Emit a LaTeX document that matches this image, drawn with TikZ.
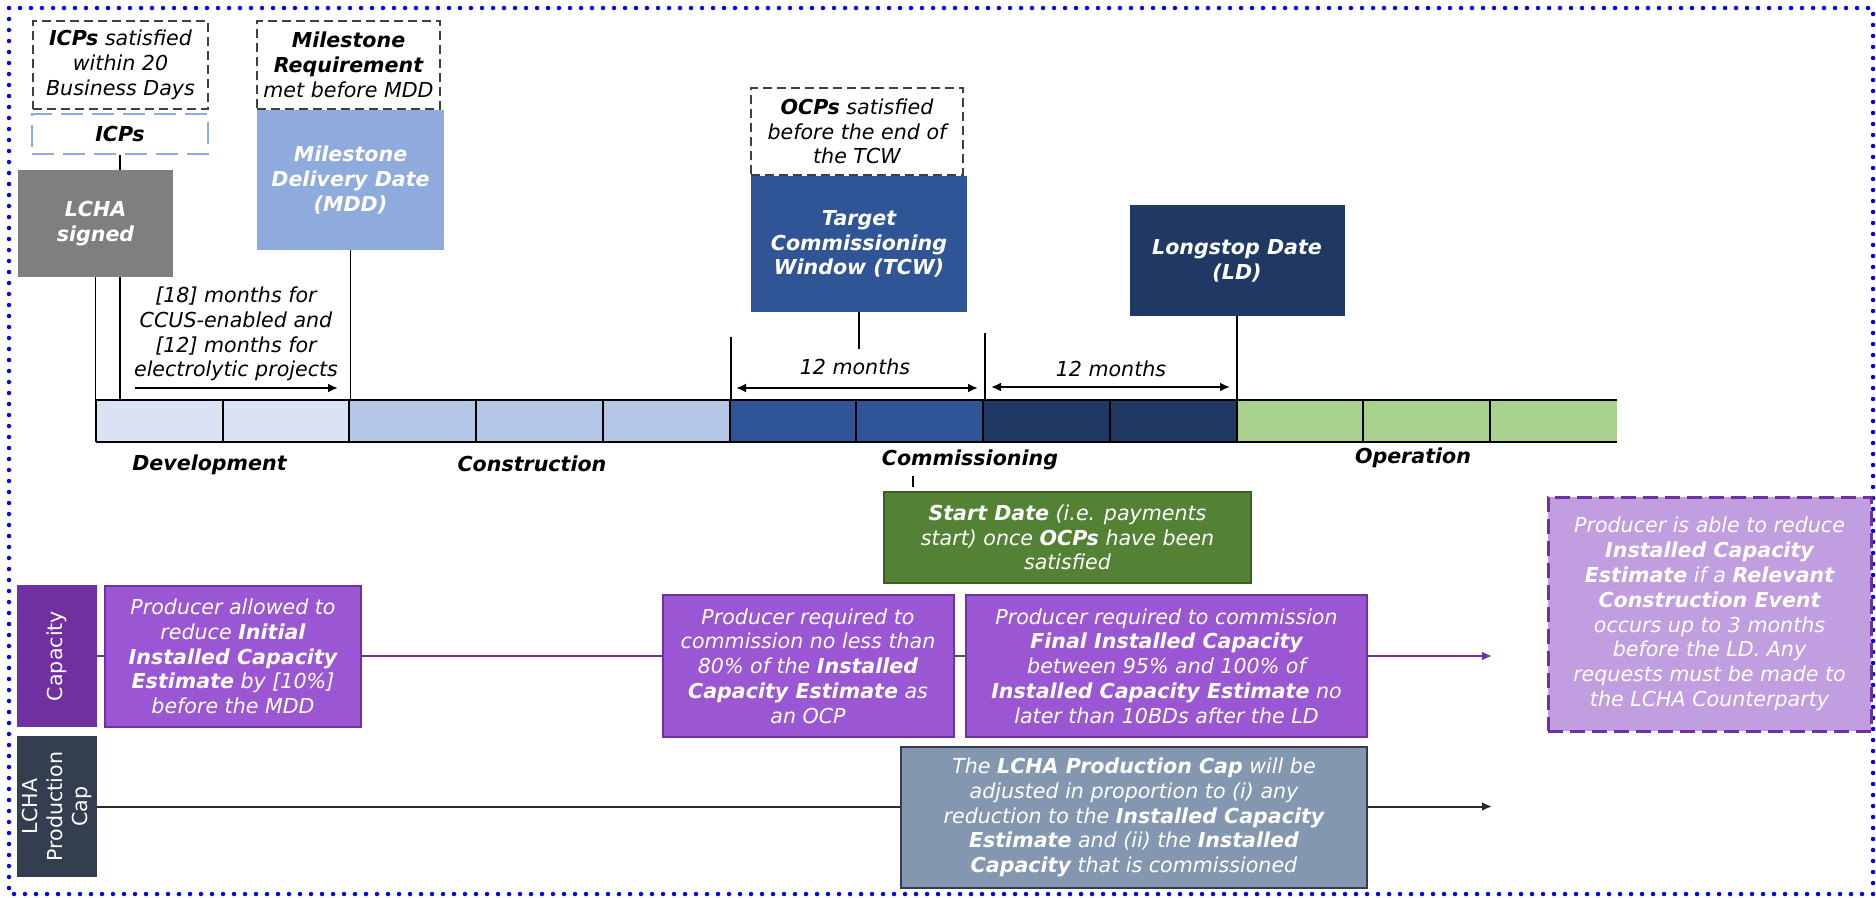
\documentclass[tikz,border=0pt]{standalone}
\usepackage{fontspec}
\setmainfont{DejaVu Sans}[
  BoldFont={DejaVu Sans Bold},
  ItalicFont={DejaVu Sans Oblique},
  BoldItalicFont={DejaVu Sans Bold Oblique}]
\usetikzlibrary{arrows.meta,calc}
\pgfdeclarelayer{background}
\pgfsetlayers{background,main}

% palette
\definecolor{devC}{HTML}{DAE3F3}
\definecolor{conC}{HTML}{B4C7E7}
\definecolor{tcwC}{HTML}{2F5597}
\definecolor{ldC}{HTML}{203864}
\definecolor{opC}{HTML}{A9D18E}
\definecolor{signC}{HTML}{7F7F7F}
\definecolor{mddC}{HTML}{8FAADC}
\definecolor{startC}{HTML}{548235}
\definecolor{startB}{HTML}{3B6024}
\definecolor{purpD}{HTML}{7030A0}
\definecolor{purpM}{HTML}{9B57D3}
\definecolor{purpL}{HTML}{C09EE0}
\definecolor{slateD}{HTML}{333F50}
\definecolor{slateM}{HTML}{8497B0}
\definecolor{dashG}{HTML}{404040}
\definecolor{capLine}{HTML}{2A2A2A}
\definecolor{frameB}{HTML}{0000F0}

\newcommand\dfont{\fontsize{20.6}{24.8}\selectfont}

\tikzset{
  every node/.style={font=\dfont\itshape, align=center, inner sep=0pt},
  notebox/.style={draw=dashG, line width=1.3pt, dash pattern=on 9pt off 5pt, text=black},
  icpbox/.style={draw=mddC, line width=2pt, dash pattern=on 22pt off 9pt, text=black},
  datebox/.style={text=white, font=\dfont\itshape\bfseries},
  purplebox/.style={fill=purpM, draw=purpD, line width=2pt, text=white},
  sidelabel/.style={text=white, font=\dfont\upshape, rotate=90},
  seg/.style={minimum width=126.75pt, minimum height=42pt},
  link/.style={draw=black, line width=1.8pt},
  dimarrow/.style={line width=2pt, {Latex[length=10pt,width=9pt]}-{Latex[length=10pt,width=9pt]}},
  onearrow/.style={line width=2pt, -{Latex[length=10pt,width=9pt]}},
  phase/.style={font=\dfont\itshape\bfseries}
}

\begin{document}
\begin{tikzpicture}[x=1pt,y=-1pt]
\useasboundingbox (0,0) rectangle (1876,897);

% dotted frame
\draw[frameB, line width=4.5pt, line cap=round, dash pattern=on 0pt off 11pt]
  (9,8) rectangle (1873,894);

% timeline bar
\foreach \i/\c in {0/devC,1/devC,2/conC,3/conC,4/conC,5/tcwC,6/tcwC,7/ldC,8/ldC,9/opC,10/opC,11/opC}
  \node[seg, fill=\c] (s\i) at ({159.375+126.75*\i},421) {};
\draw[line width=2pt] (s0.north west) -- (s11.north east);
\draw[line width=2pt] (s0.south west) -- (s11.south east);
\foreach \i in {0,...,11}
  \draw[line width=2pt] (s\i.north west) -- (s\i.south west);

% milestone notes and dates
\node[notebox, minimum width=175pt, minimum height=88pt] (icpsat) at (120.5,65)
  {\textbf{ICPs} satisfied\\within 20\\Business Days};
\node[icpbox, minimum width=176pt, minimum height=40pt] (icps) at (120,134) {\textbf{ICPs}};
\node[datebox, fill=signC, minimum width=155pt, minimum height=107pt] (lcha) at (95.5,223.5)
  {LCHA\\signed};
\node[notebox, minimum width=183pt, minimum height=88pt] (msreq) at (348.5,65)
  {\textbf{Milestone}\\\textbf{Requirement}\\met before MDD};
\node[datebox, fill=mddC, minimum width=187pt, minimum height=140pt] (mdd) at (350.5,180)
  {Milestone\\Delivery Date\\(MDD)};
\node[notebox, minimum width=212pt, minimum height=87pt] (ocps) at (857,131.5)
  {\textbf{OCPs} satisfied\\before the end of\\the TCW};
\node[datebox, fill=tcwC, minimum width=216pt, minimum height=136pt] (tcw) at (859,244)
  {Target\\Commissioning\\Window (TCW)};
\node[datebox, fill=ldC, minimum width=215pt, minimum height=111pt] (ld) at (1237,260.5)
  {Longstop Date\\(LD)};

% period labels
\node (mdev) at (236,334) {[18] months for\\CCUS-enabled and\\{[12]} months for\\electrolytic projects};
\node (m12a) at (855,367) {12 months};
\node (m12b) at (1111,369) {12 months};

% phase names
\node[phase] (devl) at (209.5,465) {Development};
\node[phase] (conl) at (532,464) {Construction};
\node[phase] (coml) at (970,460) {Commissioning};
\node[phase] (opl) at (1413,458) {Operation};

% start date
\node[fill=startC, draw=startB, line width=2pt, text=white, minimum width=367pt, minimum height=91pt]
  (start) at (1067.5,537.5)
  {\textbf{Start Date} (i.e. payments\\start) once \textbf{OCPs} have been\\satisfied};

% row labels
\node[sidelabel, fill=purpD, minimum width=142pt, minimum height=80pt] (capl) at (57,656) {Capacity};
\node[sidelabel, fill=slateD, minimum width=141pt, minimum height=80pt] (prodl) at (57,806.5)
  {LCHA\\Production\\Cap};

% capacity row
\node[purplebox, minimum width=256pt, minimum height=141pt] (allowed) at (233,656.5)
  {Producer allowed to\\reduce \textbf{Initial}\\\textbf{Installed Capacity}\\\textbf{Estimate} by [10\%]\\before the MDD};
\node[purplebox, minimum width=291pt, minimum height=142pt] (req80) at (808,666)
  {Producer required to\\commission no less than\\80\% of the \textbf{Installed}\\\textbf{Capacity Estimate} as\\an OCP};
\node[purplebox, minimum width=401pt, minimum height=142pt] (final) at (1166.5,666)
  {Producer required to commission\\\textbf{Final Installed Capacity}\\between 95\% and 100\% of\\\textbf{Installed Capacity Estimate} no\\later than 10BDs after the LD};
\node[fill=purpL, draw=purpD, line width=3pt, dash pattern=on 15pt off 7pt, text=white,
      minimum width=323pt, minimum height=234pt] (reduce) at (1709.5,614)
  {Producer is able to reduce\\\textbf{Installed Capacity}\\\textbf{Estimate} if a \textbf{Relevant}\\\textbf{Construction Event}\\occurs up to 3 months\\before the LD. Any\\requests must be made to\\the LCHA Counterparty};

% production cap row
\node[fill=slateM, draw=slateD, line width=2pt, text=white, minimum width=466pt, minimum height=141pt]
  (capbox) at (1134,817.5)
  {The \textbf{LCHA Production Cap} will be\\adjusted in proportion to (i) any\\reduction to the \textbf{Installed Capacity}\\\textbf{Estimate} and (ii) the \textbf{Installed}\\\textbf{Capacity} that is commissioned};

% free ends of connectors
\coordinate (tcwEnd) at (859,349);
\coordinate (winL) at (731,337);
\coordinate (winM) at (985,333);
\coordinate (devA) at (135,388);
\coordinate (devB) at (338,388);
\coordinate (dA1) at (736,388);
\coordinate (dA2) at (978,388);
\coordinate (dB1) at (991,387);
\coordinate (dB2) at (1230,387);
\coordinate (tick) at (913,476);
\coordinate (capEnd) at (1492,656);
\coordinate (prodEnd) at (1492,807);

\begin{pgfonlayer}{background}
  \draw[link] (icps.south) -- (icps.south |- s0.north);
  \draw[link] (lcha.south) -- (lcha.south |- s0.north);
  \draw[link] (mdd.south) -- (mdd.south |- s0.north);
  \draw[link] (tcw.south) -- (tcwEnd);
  \draw[link] (ld.south) -- (ld.south |- s0.north);
  \draw[link] (winL) -- (winL |- s0.north);
  \draw[link] (winM) -- (winM |- s0.north);
  \draw[link] ([yshift=4pt]start.north -| tick) -- (tick);
  \draw[purpD, line width=2pt, -{Latex[length=10pt,width=9pt]}] (capl.south) -- (capEnd);
  \draw[capLine, line width=2pt, -{Latex[length=10pt,width=9pt]}] (prodl.south) -- (prodl.south -| prodEnd);
\end{pgfonlayer}

% dimension arrows
\draw[onearrow] (devA) -- (devB);
\draw[dimarrow] (dA1) -- (dA2);
\draw[dimarrow] (dB1) -- (dB2);

\end{tikzpicture}
\end{document}
